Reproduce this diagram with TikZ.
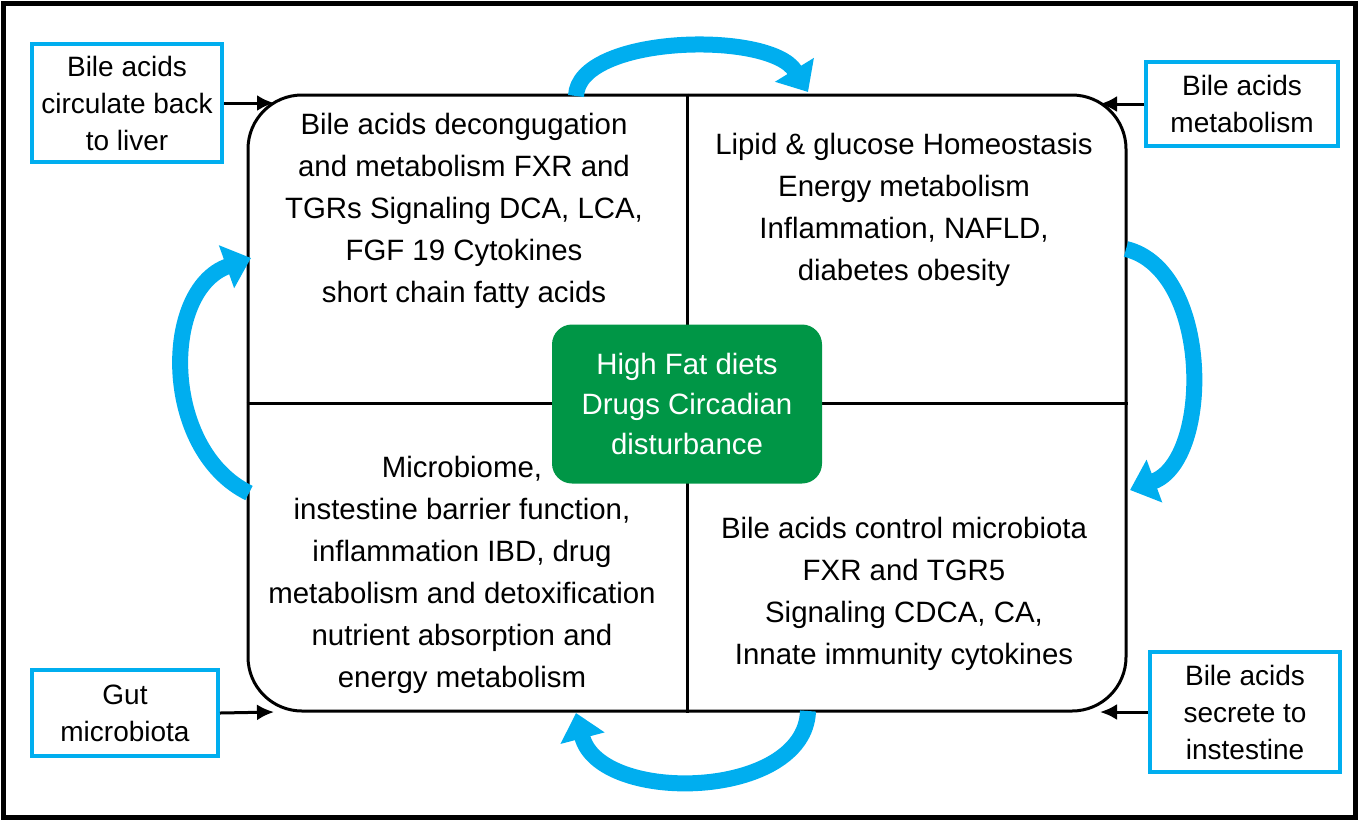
\documentclass[tikz,border=0pt]{standalone}
\usepackage{fontspec}
\setmainfont{Liberation Sans}
\usetikzlibrary{arrows.meta}
\definecolor{skyblue}{RGB}{0,174,239}
\definecolor{dietgreen}{RGB}{0,150,70}
\tikzset{
	sidebox/.style={draw=skyblue, line width=2pt, align=center, inner sep=0pt,
		font=\fontsize{14}{18.5}\selectfont},
	quadtext/.style={align=center, font=\fontsize{14.7}{21}\selectfont},
	feed/.style={-{Latex[length=8.5pt, width=8pt]}, line width=1.5pt},
	cycle/.style={draw=skyblue, line width=8pt, -{Triangle[width=22pt, length=13pt]}},
}
\begin{document}
\begin{tikzpicture}[x=0.5pt, y=-0.5pt]
	\useasboundingbox (0,0) rectangle (1358,820);
	\draw[line width=2.5pt] (3,3) rectangle (1355,817);

	% central panel split into four parts
	\node[draw, line width=1.5pt, rounded corners=27pt, minimum width=439pt, minimum height=308pt] (panel) at (687,403) {};
	\draw[line width=1.5pt] (panel.north) -- (panel.south);
	\draw[line width=1.5pt] (panel.west) -- (panel.east);

	\node[fill=dietgreen, rounded corners=10pt, minimum width=135pt, minimum height=79.5pt, text=white, align=center,
		font=\fontsize{14.7}{20}\selectfont] (diet) at (687,404) {High Fat diets\\Drugs Circadian\\disturbance};

	\node[quadtext] (decon) at (464,211) {Bile acids decongugation\\and metabolism FXR and\\TGRs Signaling DCA, LCA,\\FGF 19 Cytokines\\short chain fatty acids};
	\node[quadtext] (homeo) at (904,210) {Lipid \& glucose Homeostasis\\Energy metabolism\\Inflammation, NAFLD,\\diabetes obesity};
	\node[quadtext] (barrier) at (462,575) {Microbiome,\\instestine barrier function,\\inflammation IBD, drug\\metabolism and detoxification\\nutrient absorption and\\energy metabolism};
	\node[quadtext] (control) at (904,594) {Bile acids control microbiota\\FXR and TGR5\\Signaling CDCA, CA,\\Innate immunity cytokines};

	% boxes outside
	\node[sidebox, minimum width=95pt, minimum height=59pt] (liver) at (127,103) {Bile acids\\circulate back\\to liver};
	\node[sidebox, minimum width=96pt, minimum height=42pt] (metab) at (1242,104) {Bile acids\\metabolism};
	\node[sidebox, minimum width=93pt, minimum height=43pt] (gut) at (125,713) {Gut\\microbiota};
	\node[sidebox, minimum width=95pt, minimum height=60pt] (secrete) at (1245,712) {Bile acids\\secrete to\\instestine};

	\coordinate (tl) at (274,103);
	\coordinate (tr) at (1100,104);
	\coordinate (bl) at (274,712);
	\coordinate (br) at (1100,712);
	\draw[feed] (liver.east) -- (tl);
	\draw[feed] (metab.west) -- (tr);
	\draw[feed] (gut.east) -- (bl);
	\draw[feed] (secrete.west) -- (br);

	% blue cycle
	\coordinate (c1) at (576,96);  \coordinate (c2) at (808,92);
	\coordinate (c3) at (1126,249); \coordinate (c4) at (1130,490);
	\coordinate (c5) at (808,711); \coordinate (c6) at (576,713);
	\coordinate (c7) at (249,493); \coordinate (c8) at (251,258);
	\draw[cycle] (c1) .. controls (578,35) and (770,30) .. (c2);
	\draw[cycle] (c3) .. controls (1212,270) and (1212,460) .. (c4);
	\draw[cycle] (c5) .. controls (805,800) and (600,805) .. (c6);
	\draw[cycle] (c7) .. controls (161,450) and (161,290) .. (c8);
\end{tikzpicture}
\end{document}
